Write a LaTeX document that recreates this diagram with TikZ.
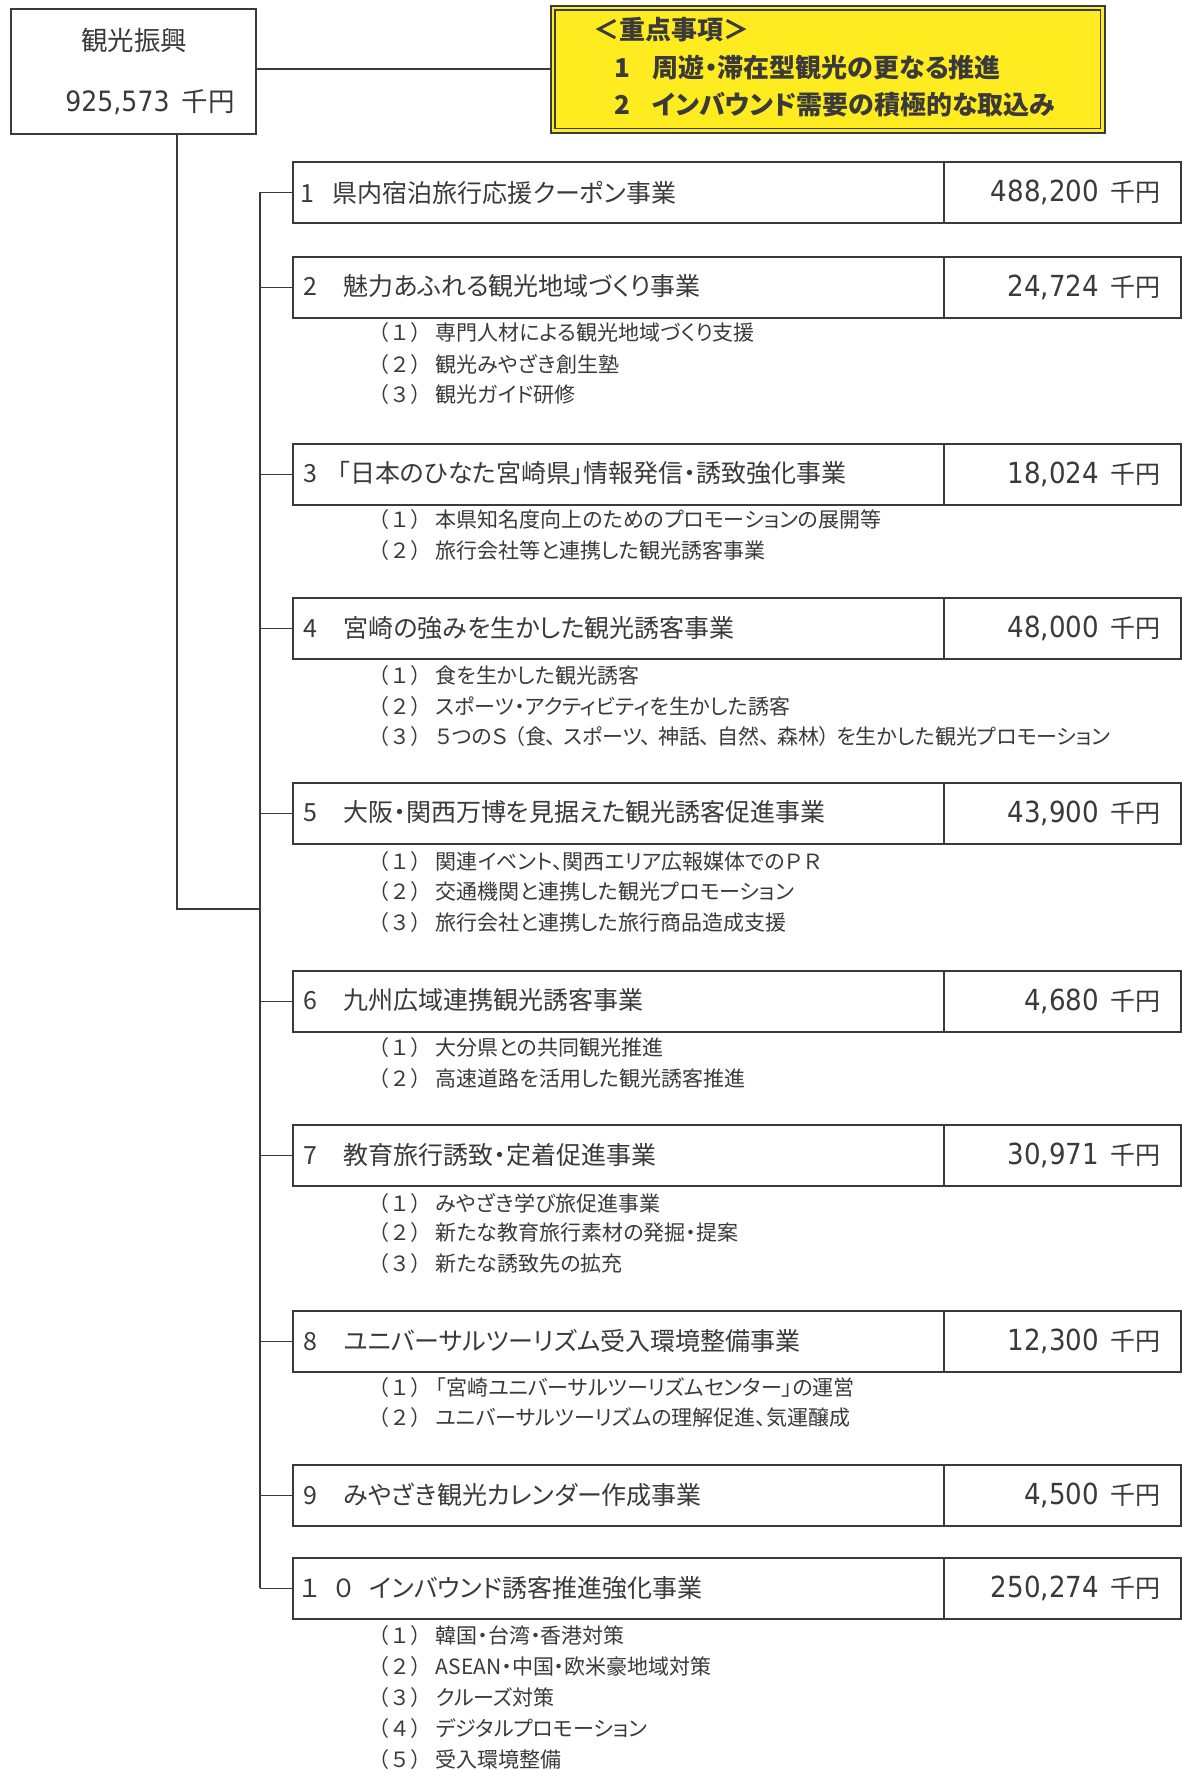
\documentclass[tikz,border=0pt]{standalone}
\usepackage{fontspec}
\setmainfont{Noto Sans CJK JP}
\newfontfamily\pjp[RawFeature=+palt]{Noto Sans CJK JP}
\newfontfamily\numfont[FakeStretch=0.9]{DejaVu Sans}
\definecolor{ink}{RGB}{58,58,58}
\definecolor{hiyel}{RGB}{255,236,32}
\newcommand{\amtxt}[2]{{\numfont\fontsize{#2}{30}\selectfont #1}\hspace{12pt}千円}
\newcommand{\subnum}[1]{{\normalfont\fontsize{21}{24}\selectfont （#1）}\hspace{4pt}}
\newcommand{\wsp}{\hspace{7pt}}
\begin{document}
\begin{tikzpicture}[x=1pt,y=-1pt,
  line width=1.8pt, draw=ink, text=ink,
  rootbox/.style={draw, minimum width=245pt, minimum height=125pt, anchor=north west, inner sep=0},
  itembox/.style={draw, minimum width=888pt, minimum height=61pt, anchor=north west, inner sep=0},
  itemtxt/.style={anchor=west, font=\pjp\fontsize{25}{28}\selectfont, inner sep=0},
  amt/.style={anchor=east, font=\fontsize{25}{28}\selectfont, inner sep=0},
  subtxt/.style={anchor=west, font=\pjp\fontsize{21}{24}\selectfont, inner sep=0},
  keytxt/.style={anchor=west, font=\pjp\fontsize{26}{29}\selectfont\bfseries, inner sep=0},
  conn/.style={draw=ink, line width=1.8pt}]
\useasboundingbox[fill=white] (0,0) rectangle (1182,1770);

% root
\node[rootbox] (root) at (10,8) {};
\node[font=\fontsize{26.5}{29}\selectfont, inner sep=0] (rootname) at (134,40) {観光振興};
\node[font=\fontsize{26.5}{29}\selectfont, inner sep=0] (rootamt) at (150,102) {\amtxt{925,573}{28}};

% key points
\node[draw, fill=hiyel, minimum width=554pt, minimum height=127pt, anchor=north west, inner sep=0, line width=1.5pt] (key) at (550,5) {};
\draw[line width=1.2pt] ([shift={(5pt,-5pt)}]key.north west) rectangle ([shift={(-5pt,5pt)}]key.south east);
\node[keytxt] (k0) at (593,30) {＜重点事項＞};
\node[keytxt] (k1) at (614,68) {1\hspace{22pt}周遊・滞在型観光の更なる推進};
\node[keytxt] (k2) at (614,105) {2\hspace{22pt}インバウンド需要の積極的な取込み};
\draw[conn] (root.east |- key.west) coordinate (rk) -- (key.west);

% items
\foreach \n/\t in {1/161,2/256,3/443,4/597,5/782,6/970,7/1124,8/1310,9/1464,10/1557}{
  \node[itembox] (b\n) at (292,\t) {};
  \draw[conn] (944,\t) coordinate (d\n) -- (d\n |- b\n.south);
}
\node[itemtxt] (l1) at (300,193) {1\hspace{18pt}県内宿泊旅行応援クーポン事業};
\node[itemtxt] (l2) at (303,286) {2\hspace{26pt}魅力あふれる観光地域づくり事業};
\node[itemtxt] (l3) at (303,473) {3\hspace{20pt}「日本のひなた宮崎県」情報発信・誘致強化事業};
\node[itemtxt] (l4) at (303,628) {4\hspace{26pt}宮崎の強みを生かした観光誘客事業};
\node[itemtxt] (l5) at (303,812) {5\hspace{26pt}大阪・関西万博を見据えた観光誘客促進事業};
\node[itemtxt] (l6) at (303,1000) {6\hspace{26pt}九州広域連携観光誘客事業};
\node[itemtxt] (l7) at (303,1155) {7\hspace{26pt}教育旅行誘致・定着促進事業};
\node[itemtxt] (l8) at (303,1341) {8\hspace{26pt}ユニバーサルツーリズム受入環境整備事業};
\node[itemtxt] (l9) at (303,1495) {9\hspace{26pt}みやざき観光カレンダー作成事業};
\node[itemtxt] (l10) at (300,1588) {１\hspace{15pt}０\hspace{16pt}インバウンド誘客推進強化事業};

\foreach \n/\a in {1/488{,}200,2/24{,}724,3/18{,}024,4/48{,}000,5/43{,}900,6/4{,}680,7/30{,}971,8/12{,}300,9/4{,}500,10/250{,}274}{
  \node[amt] (a\n) at ([xshift=-20pt]b\n.east) {\amtxt{\a}{29}};
}

% sub items
\node[subtxt] (s2a) at (368,333) {\subnum{１}専門人材による観光地域づくり支援};
\node[subtxt] (s2b) at (368,364) {\subnum{２}観光みやざき創生塾};
\node[subtxt] (s2c) at (368,395) {\subnum{３}観光ガイド研修};
\node[subtxt] (s3a) at (368,520) {\subnum{１}本県知名度向上のためのプロモーションの展開等};
\node[subtxt] (s3b) at (368,551) {\subnum{２}旅行会社等と連携した観光誘客事業};
\node[subtxt] (s4a) at (368,676) {\subnum{１}食を生かした観光誘客};
\node[subtxt] (s4b) at (368,707) {\subnum{２}スポーツ・アクティビティを生かした誘客};
\node[subtxt] (s4c) at (368,737) {\subnum{３}５つのＳ\wsp（食、\wsp スポーツ、\wsp 神話、\wsp 自然、\wsp 森林）\wsp を生かした観光プロモーション};
\node[subtxt] (s5a) at (368,862) {\subnum{１}関連イベント、関西エリア広報媒体でのＰ\hspace{3pt}Ｒ};
\node[subtxt] (s5b) at (368,892) {\subnum{２}交通機関と連携した観光プロモーション};
\node[subtxt] (s5c) at (368,923) {\subnum{３}旅行会社と連携した旅行商品造成支援};
\node[subtxt] (s6a) at (368,1048) {\subnum{１}大分県との共同観光推進};
\node[subtxt] (s6b) at (368,1079) {\subnum{２}高速道路を活用した観光誘客推進};
\node[subtxt] (s7a) at (368,1203) {\subnum{１}みやざき学び旅促進事業};
\node[subtxt] (s7b) at (368,1233) {\subnum{２}新たな教育旅行素材の発掘・提案};
\node[subtxt] (s7c) at (368,1264) {\subnum{３}新たな誘致先の拡充};
\node[subtxt] (s8a) at (368,1388) {\subnum{１}「宮崎ユニバーサルツーリズムセンター」の運営};
\node[subtxt] (s8b) at (368,1418) {\subnum{２}ユニバーサルツーリズムの理解促進、気運醸成};
\node[subtxt] (s10a) at (368,1635) {\subnum{１}韓国・台湾・香港対策};
\node[subtxt] (s10b) at (368,1666) {\subnum{２}ASEAN・中国・欧米豪地域対策};
\node[subtxt] (s10c) at (368,1697) {\subnum{３}クルーズ対策};
\node[subtxt] (s10d) at (368,1728) {\subnum{４}デジタルプロモーション};
\node[subtxt] (s10e) at (368,1759) {\subnum{５}受入環境整備};

% connectors
\coordinate (trunk) at (177,133);
\coordinate (trunkend) at (177,909);
\coordinate (busjoin) at (260,909);
\draw[conn] (trunk) -- (trunkend) -- (busjoin);
\coordinate (bustop) at (260,192);
\coordinate (busbot) at (260,1588);
\draw[conn] (bustop) -- (busbot);
\foreach \n in {1,...,10}{
  \draw[conn] (bustop |- b\n.west) -- (b\n.west);
}
\end{tikzpicture}
\end{document}
